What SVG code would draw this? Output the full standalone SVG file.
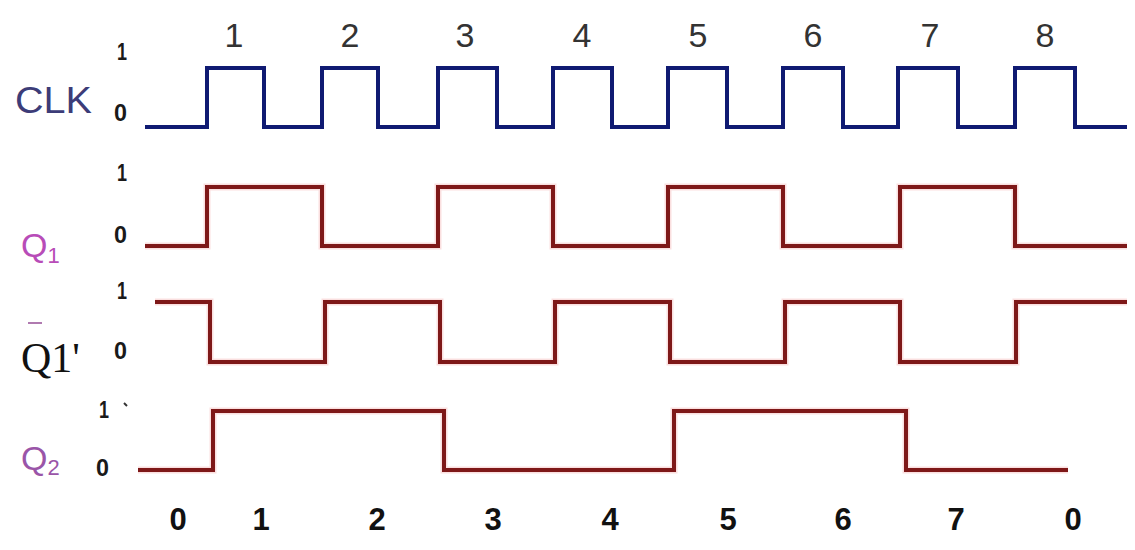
<svg xmlns="http://www.w3.org/2000/svg" width="1135" height="550" viewBox="0 0 1135 550">
<style>
.bg{fill:#ffffff}
.clk{fill:none;stroke:#0f1a72;stroke-width:4;stroke-linejoin:miter;stroke-linecap:butt}
.q{fill:none;stroke:#7e1818;stroke-width:4;stroke-linejoin:miter;stroke-linecap:butt}
.halo{fill:none;stroke:#f4b8b8;stroke-width:7;stroke-opacity:0.45}
.top{font-family:"Liberation Sans",Arial,sans-serif;font-size:34px;fill:#333333;text-anchor:middle}
.bot{font-family:"Liberation Sans",Arial,sans-serif;font-size:31px;font-weight:bold;fill:#111111;text-anchor:middle}
.lv{font-family:"Liberation Sans",Arial,sans-serif;font-size:24px;font-weight:bold;fill:#1a1a1a}
.sig{font-family:"Liberation Sans",Arial,sans-serif}
</style>
<rect class="bg" x="0" y="0" width="1135" height="550"/>

<g id="clk-numbers">
<text class="top" x="234" y="47">1</text>
<text class="top" x="350" y="47">2</text>
<text class="top" x="465" y="47">3</text>
<text class="top" x="582" y="47">4</text>
<text class="top" x="698" y="47">5</text>
<text class="top" x="813" y="47">6</text>
<text class="top" x="930" y="47">7</text>
<text class="top" x="1045" y="47">8</text>
</g>

<g id="clk">
<text class="sig" x="15" y="113" font-size="36" fill="#3c3c78" textLength="77" lengthAdjust="spacingAndGlyphs">CLK</text>
<text class="lv" x="117" y="60" textLength="10" lengthAdjust="spacingAndGlyphs">1</text>
<text class="lv" x="114" y="121" textLength="13" lengthAdjust="spacingAndGlyphs">0</text>
<path class="clk" d="M145,127 H207 V68 H264 V127 H322 V68 H378 V127 H438 V68 H497 V127 H553 V68 H612 V127 H668 V68 H727 V127 H783 V68 H843 V127 H898 V68 H958 V127 H1015 V68 H1075 V127 H1127"/>
</g>

<g id="q1">
<text class="sig" x="21" y="257" font-size="34" fill="#b84cb8">Q<tspan font-size="22" dy="6">1</tspan></text>
<text class="lv" x="117" y="181" textLength="10" lengthAdjust="spacingAndGlyphs">1</text>
<text class="lv" x="114" y="243" textLength="13" lengthAdjust="spacingAndGlyphs">0</text>
<path class="halo" d="M145,246 H207 V187 H322 V246 H438 V187 H553 V246 H668 V187 H783 V246 H900 V187 H1015 V246 H1127"/>
<path class="q" d="M145,246 H207 V187 H322 V246 H438 V187 H553 V246 H668 V187 H783 V246 H900 V187 H1015 V246 H1127"/>
</g>

<g id="q1bar">
<line x1="28" y1="323" x2="42" y2="323" stroke="#b07ab0" stroke-width="2"/>
<text x="21" y="372" font-family="Liberation Serif,'Times New Roman',serif" font-size="42" fill="#111111">Q1'</text>
<text class="lv" x="117" y="299" textLength="10" lengthAdjust="spacingAndGlyphs">1</text>
<text class="lv" x="114" y="359" textLength="13" lengthAdjust="spacingAndGlyphs">0</text>
<path class="halo" d="M155,302 H210 V362 H325 V302 H440 V362 H555 V302 H670 V362 H785 V302 H900 V362 H1016 V302 H1127"/>
<path class="q" d="M155,302 H210 V362 H325 V302 H440 V362 H555 V302 H670 V362 H785 V302 H900 V362 H1016 V302 H1127"/>
</g>

<g id="q2">
<text class="sig" x="21" y="470" font-size="34" fill="#9a55a8">Q<tspan font-size="22" dy="5">2</tspan></text>
<text class="lv" x="99" y="418" textLength="10" lengthAdjust="spacingAndGlyphs">1</text>
<line x1="124" y1="403" x2="127" y2="406" stroke="#333333" stroke-width="2"/>
<text class="lv" x="96" y="476" textLength="13" lengthAdjust="spacingAndGlyphs">0</text>
<path class="halo" d="M138,470 H213 V411 H444 V470 H674 V411 H906 V470 H1068"/>
<path class="q" d="M138,470 H213 V411 H444 V470 H674 V411 H906 V470 H1068"/>
</g>

<g id="state-numbers">
<text class="bot" x="178" y="530">0</text>
<text class="bot" x="261" y="530">1</text>
<text class="bot" x="377" y="530">2</text>
<text class="bot" x="493" y="530">3</text>
<text class="bot" x="610" y="530">4</text>
<text class="bot" x="728" y="530">5</text>
<text class="bot" x="843" y="530">6</text>
<text class="bot" x="956" y="530">7</text>
<text class="bot" x="1073" y="530">0</text>
</g>
</svg>
